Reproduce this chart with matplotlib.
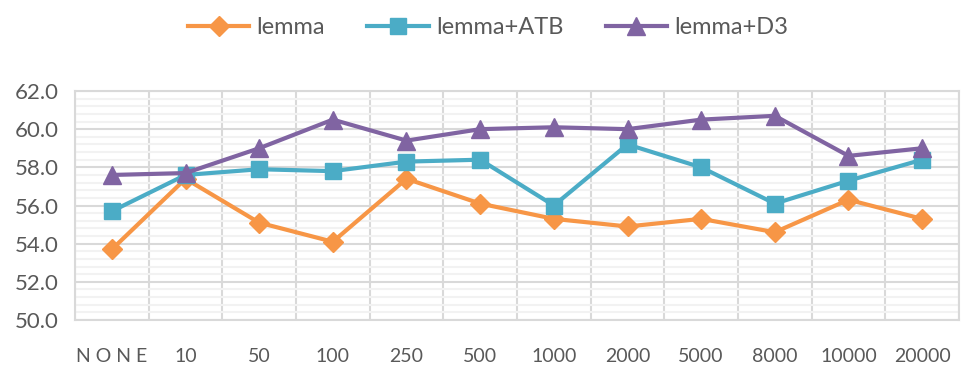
import matplotlib
matplotlib.use("Agg")
import matplotlib.pyplot as plt
from matplotlib.ticker import MultipleLocator, FixedLocator
import numpy as np

categories = ["NONE", "10", "50", "100", "250", "500", "1000", "2000", "5000", "8000", "10000", "20000"]
lemma = [53.7, 57.4, 55.1, 54.1, 57.4, 56.1, 55.3, 54.9, 55.3, 54.6, 56.3, 55.3]
lemma_atb = [55.7, 57.6, 57.9, 57.8, 58.3, 58.4, 56.0, 59.2, 58.0, 56.1, 57.3, 58.4]
lemma_d3 = [57.6, 57.7, 59.0, 60.5, 59.4, 60.0, 60.1, 60.0, 60.5, 60.7, 58.6, 59.0]
series_names = ["lemma", "lemma+ATB", "lemma+D3"]
yticks = [50.0, 52.0, 54.0, 56.0, 58.0, 60.0, 62.0]

plt.rcParams['font.family'] = ['Lato', 'DejaVu Sans']
text_color = "#595959"

fig = plt.figure(figsize=(9.76, 3.78), dpi=100)
ax = fig.add_axes([75/976, (378-320)/378, (959-75)/976, (320-91)/378])

x = np.arange(len(categories))
styles = [
    dict(color="#F79646", marker="D", markersize=10.5),
    dict(color="#4BACC6", marker="s", markersize=11),
    dict(color="#8064A2", marker="^", markersize=13),
]
handles = []
for vals, name, st in zip([lemma, lemma_atb, lemma_d3], series_names, styles):
    h, = ax.plot(x, vals, color=st["color"], marker=st["marker"], markersize=st["markersize"],
                 linewidth=3, label=name, zorder=3, solid_joinstyle="round")
    handles.append(h)

ax.set_xlim(-0.5, len(categories) - 0.5)
ax.set_ylim(50, 62)
ax.yaxis.set_major_locator(FixedLocator(yticks))
ax.yaxis.set_minor_locator(MultipleLocator(0.4))
ax.set_yticklabels([f"{v:.1f}" for v in yticks])
ax.set_xticks(x)
ax.set_xticklabels([" ".join(c) if c == "NONE" else c for c in categories])
ax.xaxis.set_minor_locator(FixedLocator(np.arange(-0.5, len(categories), 1.0)))

ax.grid(which="major", axis="y", color="#D9D9D9", linewidth=1.5, zorder=1)
ax.grid(which="minor", axis="y", color="#F2F2F2", linewidth=1.5, zorder=0)
ax.grid(which="minor", axis="x", color="#D9D9D9", linewidth=1.5, zorder=1)
ax.grid(which="major", axis="x", visible=False)
ax.set_axisbelow(True)

for s in ax.spines.values():
    s.set_color("#D9D9D9")
    s.set_linewidth(1.5)

ax.tick_params(which="both", length=0)
ax.tick_params(axis="y", labelsize=16, labelcolor=text_color, pad=12)
ax.tick_params(axis="x", labelsize=14, labelcolor=text_color, pad=20)

fig.legend(handles=handles, labels=series_names, loc="center", bbox_to_anchor=(0.5, 1 - 28/378),
           ncol=3, frameon=False, fontsize=17, handlelength=2.6, columnspacing=1.8,
           handletextpad=0.3, labelcolor=text_color)

fig.savefig("out.png", dpi=100)
